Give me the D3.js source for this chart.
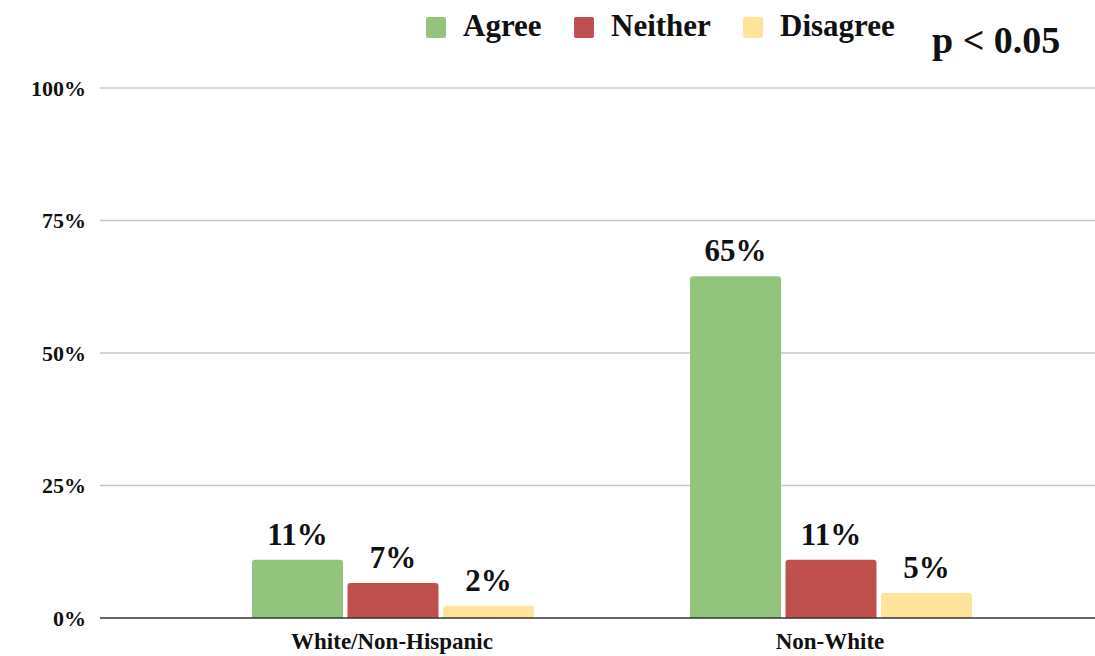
<!DOCTYPE html>
<html><head><meta charset="utf-8">
<script src="https://cdn.jsdelivr.net/npm/d3@7"></script>
<style>body{margin:0;background:#fff}svg{display:block}text{font-family:"Liberation Serif","Times New Roman",serif;font-weight:bold;fill:#111}</style>
</head><body>
<svg id="c" width="1095" height="656"></svg>
<script>
const categories = ["White/Non-Hispanic", "Non-White"];
const seriesNames = ["Agree", "Neither", "Disagree"];
const seriesColors = ["#93c47d", "#c0504d", "#fde49a"];
const agree = [11, 64.5];
const neither = [6.6, 11];
const disagree = [2.3, 4.7];
const valueLabels = [["11%", "65%"], ["7%", "11%"], ["2%", "5%"]];
const yTicks = [0, 25, 50, 75, 100];
const yTickLabels = ["0%", "25%", "50%", "75%", "100%"];
const series = [agree, neither, disagree];

const svg = d3.select("#c");
const y = d3.scaleLinear().domain([0, 100]).range([618, 88]);
const x0 = d3.scaleBand().domain(categories).range([173, 1049]).paddingInner(0).paddingOuter(0);
const x1 = d3.scaleBand().domain(seriesNames).range([0, 282]).paddingInner(0.047);
const groupOffset = (x0.bandwidth() - 282) / 2 + 1;

// gridlines
svg.append("g").selectAll("line").data(yTicks.filter(d => d > 0)).join("line")
  .attr("x1", 100).attr("x2", 1095)
  .attr("y1", d => y(d)).attr("y2", d => y(d))
  .attr("stroke", "#c8c8c8").attr("stroke-width", 1.5);

// y axis labels
const yAxis = d3.axisLeft(y).tickValues(yTicks).tickFormat((d, i) => yTickLabels[i]).tickSize(0).tickPadding(0);
const ya = svg.append("g").attr("transform", "translate(86,0)").call(yAxis);
ya.select(".domain").remove();
ya.selectAll("text").style("font-size", "22px").style("font-family", "Liberation Serif, serif").style("font-weight", "bold").attr("fill", "#111");

// bars
const g = svg.append("g");
seriesNames.forEach((s, si) => {
  categories.forEach((c, ci) => {
    const v = series[si][ci];
    const bx = x0(c) + groupOffset + x1(s);
    g.append("path")
      .attr("d", () => {
        const w = x1.bandwidth(), top = y(v), bot = y(0), r = 3;
        return `M${bx},${bot}V${top + r}Q${bx},${top} ${bx + r},${top}H${bx + w - r}Q${bx + w},${top} ${bx + w},${top + r}V${bot}Z`;
      })
      .attr("fill", seriesColors[si]);
    g.append("text")
      .attr("x", bx + x1.bandwidth() / 2)
      .attr("y", y(v) - 15)
      .attr("text-anchor", "middle")
      .style("font-size", "31px")
      .text(valueLabels[si][ci]);
  });
});

// x axis
const xAxis = d3.axisBottom(x0).tickSize(0).tickPadding(15);
const xa = svg.append("g").attr("transform", `translate(0,${y(0)})`).call(xAxis);
xa.select(".domain").remove();
xa.selectAll("text").style("font-size", "23px").style("font-family", "Liberation Serif, serif").style("font-weight", "bold").attr("fill", "#111");
svg.append("line").attr("x1", 100).attr("x2", 1095).attr("y1", y(0)).attr("y2", y(0)).attr("stroke", "#333").attr("stroke-width", 1.5);

// legend
const legendX = [426, 574, 743];
const leg = svg.append("g");
seriesNames.forEach((s, i) => {
  leg.append("rect").attr("x", legendX[i]).attr("y", 17).attr("width", 20).attr("height", 21).attr("rx", 2).attr("fill", seriesColors[i]);
  leg.append("text").attr("x", legendX[i] + 37).attr("y", 36).style("font-size", "31px").text(s);
});

svg.append("text").attr("x", 932).attr("y", 53).style("font-size", "38px").text("p < 0.05");
</script>
</body></html>
